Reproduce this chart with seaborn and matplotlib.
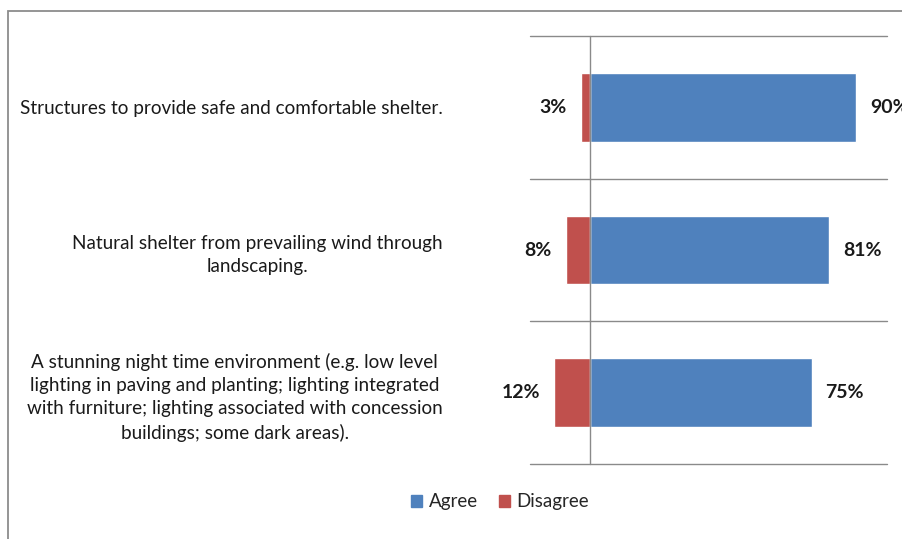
import matplotlib
matplotlib.use("Agg")
import matplotlib.pyplot as plt
from matplotlib.patches import Patch, Rectangle
import pandas as pd
import seaborn as sns

# survey statements and shares (percent)
statements = [
    "Structures to provide safe and comfortable shelter.",
    "Natural shelter from prevailing wind through\nlandscaping.",
    "A stunning night time environment (e.g. low level\n"
    "lighting in paving and planting; lighting integrated\n"
    "with furniture; lighting associated with concession\n"
    "buildings; some dark areas).",
]
agree = [90, 81, 75]
disagree = [3, 8, 12]

agree_color = "#4F81BD"
disagree_color = "#C0504D"
grid_color = "#8A8A8A"

sns.set_theme(style="white")
plt.rcParams["font.family"] = ["Lato", "DejaVu Sans"]

df = pd.DataFrame({"statement": statements, "agree": agree,
                   "disagree": [-d for d in disagree]})

fig = plt.figure(figsize=(9.02, 5.39), dpi=100)
ax = fig.add_axes([530 / 902, 1 - 464 / 539, 357 / 902, 428 / 539])

sns.barplot(data=df, y="statement", x="agree", color=agree_color,
            width=0.48, saturation=1, ax=ax, orient="h")
sns.barplot(data=df, y="statement", x="disagree", color=disagree_color,
            width=0.48, saturation=1, ax=ax, orient="h")

ax.set_xlim(-20.1, 100.5)
ax.set_ylim(2.5, -0.5)

# value labels
ax.bar_label(ax.containers[0], labels=[f"{v}%" for v in agree],
             padding=10, fontsize=14, fontweight="bold", color="#1a1a1a")
ax.bar_label(ax.containers[1], labels=[f"{v}%" for v in disagree],
             padding=10, fontsize=14, fontweight="bold", color="#1a1a1a")

# category separators and zero line
for y in [-0.5, 0.5, 1.5, 2.5]:
    ax.axhline(y, color=grid_color, lw=1, zorder=0, clip_on=False)
ax.axvline(0, color=grid_color, lw=1, zorder=3, clip_on=False)

for s in ax.spines.values():
    s.set_visible(False)
ax.set_xticks([])
ax.set_xlabel("")
ax.set_ylabel("")
ax.set_yticks(range(len(statements)))
ax.set_yticklabels(statements, multialignment="center", fontsize=13.6,
                   color="#1a1a1a", linespacing=1.45)
ax.tick_params(axis="y", length=0, pad=63)

handles = [Patch(color=agree_color, label="Agree"),
           Patch(color=disagree_color, label="Disagree")]
fig.legend(handles=handles, loc="center", bbox_to_anchor=(500 / 902, 1 - 502 / 539),
           ncol=2, frameon=False, fontsize=13.5, handlelength=0.6, handleheight=0.6,
           handletextpad=0.35, columnspacing=1.1)

# chart frame (cropped on the right and bottom)
fig.add_artist(Rectangle((8 / 902, -0.1), 1.2, 1.1 - 11 / 539, transform=fig.transFigure,
                         fill=False, edgecolor="#8C8C8C", lw=1.3))

fig.savefig("out.png", dpi=100)
